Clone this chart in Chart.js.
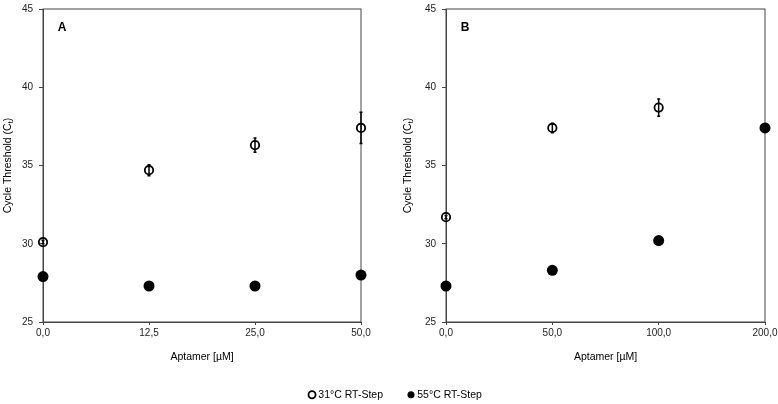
<!DOCTYPE html>
<html>
<head>
<meta charset="utf-8">
<script src="https://cdn.jsdelivr.net/npm/chart.js@4.4.1/dist/chart.umd.min.js"></script>
<style>
  html, body { margin: 0; padding: 0; background: #fff; overflow: hidden; }
  .row { display: flex; width: 778px; height: 404px; overflow: hidden; }
  canvas { display: block; }
</style>
</head>
<body>
<div class="row">
  <canvas id="chartA" width="389" height="410"></canvas>
  <canvas id="chartB" width="389" height="410"></canvas>
</div>
<script>
// Panel A: aptamer 0 - 50 µM
const labelsA = ['0,0', '12,5', '25,0', '50,0'];
const ct31A = [30.1, 34.7, 36.3, 37.4];
const err31A = [0.1, 0.35, 0.45, 1.0];
const ct55A = [27.9, 27.3, 27.3, 28.0];

// Panel B: aptamer 0 - 200 µM
const labelsB = ['0,0', '50,0', '100,0', '200,0'];
const ct31B = [31.7, 37.4, 38.7, null];
const err31B = [0.1, 0.3, 0.55, null];
const ct55B = [27.3, 28.3, 30.2, 37.4];

const seriesNames = ['31°C RT-Step', '55°C RT-Step'];
const yMin = 25, yMax = 45, yStep = 5;

const AXIS = '#444';
const FONT = '"Liberation Sans", Arial, sans-serif';

// frame, error bars, panel letter and y title (with subscript)
const panelDecor = {
  id: 'panelDecor',
  beforeDatasetsDraw(chart) {
    const { ctx, chartArea: a } = chart;
    ctx.save();
    ctx.strokeStyle = AXIS;
    ctx.lineWidth = 1;
    ctx.strokeRect(a.left, a.top, a.right - a.left, a.bottom - a.top);
    ctx.restore();
  },
  afterDatasetsDraw(chart) {
    const { ctx, scales: { y } } = chart;
    ctx.save();
    ctx.strokeStyle = '#000';
    ctx.lineWidth = 1.5;
    chart.data.datasets.forEach((ds, i) => {
      if (!ds.errors) return;
      const meta = chart.getDatasetMeta(i);
      meta.data.forEach((pt, j) => {
        const v = ds.data[j], e = ds.errors[j];
        if (v == null || !e) return;
        const y1 = y.getPixelForValue(v - e), y2 = y.getPixelForValue(v + e);
        ctx.beginPath();
        ctx.moveTo(pt.x, y1); ctx.lineTo(pt.x, y2);
        ctx.moveTo(pt.x - 1.5, y1); ctx.lineTo(pt.x + 1.5, y1);
        ctx.moveTo(pt.x - 1.5, y2); ctx.lineTo(pt.x + 1.5, y2);
        ctx.stroke();
      });
    });
    ctx.restore();
  },
  afterDraw(chart, args, opts) {
    const { ctx, chartArea: a } = chart;
    ctx.save();
    // panel letter
    ctx.fillStyle = '#000';
    ctx.font = 'bold 12px ' + FONT;
    ctx.textAlign = 'center';
    ctx.textBaseline = 'middle';
    ctx.fillText(opts.letter, a.left + 19, 28);

    // y axis title with subscript t
    const cy = (a.top + a.bottom) / 2;
    const main = '10.5px ' + FONT, sub = '7.5px ' + FONT;
    ctx.translate(opts.yTitleX, cy);
    ctx.rotate(-Math.PI / 2);
    ctx.textAlign = 'left';
    ctx.font = main;
    const p1 = 'Cycle Threshold (C', p3 = ')';
    const w1 = ctx.measureText(p1).width, w3 = ctx.measureText(p3).width;
    ctx.font = sub;
    const w2 = ctx.measureText('t').width;
    let x = -(w1 + w2 + w3) / 2;
    ctx.font = main;
    ctx.fillText(p1, x, 0);
    x += w1;
    ctx.font = sub;
    ctx.fillText('t', x, 3);
    x += w2;
    ctx.font = main;
    ctx.fillText(p3, x, 0);
    ctx.restore();
  }
};

function makeChart(id, labels, d31, e31, d55, cfg) {
  return new Chart(document.getElementById(id).getContext('2d'), {
    type: 'line',
    data: {
      labels: labels,
      datasets: [
        {
          label: seriesNames[0], data: d31, errors: e31, showLine: false,
          pointStyle: 'circle', pointRadius: 4.2, pointBorderWidth: 1.8,
          borderColor: '#000', backgroundColor: 'rgba(0,0,0,0)',
          pointBackgroundColor: 'rgba(0,0,0,0)', pointBorderColor: '#000', clip: false
        },
        {
          label: seriesNames[1], data: d55, showLine: false,
          pointStyle: 'circle', pointRadius: 5.5, pointBorderWidth: 0,
          borderColor: '#000', backgroundColor: '#000',
          pointBackgroundColor: '#000', pointBorderColor: '#000', clip: false
        }
      ]
    },
    options: {
      responsive: false,
      animation: false,
      devicePixelRatio: 1,
      layout: { padding: { left: cfg.padLeft, right: 0, top: 9, bottom: 0 } },
      scales: {
        x: {
          type: 'category',
          offset: false,
          grid: { drawOnChartArea: false, drawTicks: true, tickLength: 3, color: AXIS },
          border: { color: AXIS, width: 1 },
          ticks: { color: '#222', font: { family: FONT, size: 10 }, padding: 2, maxRotation: 0, autoSkip: false },
          title: { display: true, text: 'Aptamer [µM]', color: '#000', font: { family: FONT, size: 10.5 }, padding: { top: 0, bottom: 20 } },
          afterFit(s) { s.height = 61.5; s.paddingLeft = 0; s.paddingRight = 0; }
        },
        y: {
          min: yMin, max: yMax,
          grid: { drawOnChartArea: false, drawTicks: true, tickLength: 4, color: AXIS },
          border: { color: AXIS, width: 1 },
          ticks: { stepSize: yStep, color: '#222', font: { family: FONT, size: 10 }, padding: 6 },
          afterFit(s) { s.width = cfg.yWidth; s.paddingTop = 0; s.paddingBottom = 0; }
        },
        yR: {
          type: 'linear', position: 'right', min: yMin, max: yMax,
          grid: { display: false }, border: { display: false },
          ticks: { display: false },
          afterFit(s) { s.width = cfg.rightWidth; s.paddingTop = 0; s.paddingBottom = 0; }
        }
      },
      plugins: {
        tooltip: { enabled: false },
        legend: {
          position: 'bottom',
          align: cfg.legendAlign,
          labels: {
            usePointStyle: true, boxWidth: 2, boxHeight: 5, padding: 6,
            color: '#000', font: { family: FONT, size: 10.5 },
            filter: item => item.datasetIndex === cfg.legendIndex
          }
        },
        panelDecor: { letter: cfg.letter, yTitleX: cfg.yTitleX }
      }
    },
    plugins: [panelDecor]
  });
}

makeChart('chartA', labelsA, ct31A, err31A, ct55A,
  { letter: 'A', padLeft: 0, yWidth: 43, rightWidth: 28, legendAlign: 'end', legendIndex: 0, yTitleX: 8 });
makeChart('chartB', labelsB, ct31B, err31B, ct55B,
  { letter: 'B', padLeft: 15, yWidth: 42, rightWidth: 13, legendAlign: 'start', legendIndex: 1, yTitleX: 19 });
</script>
</body>
</html>
